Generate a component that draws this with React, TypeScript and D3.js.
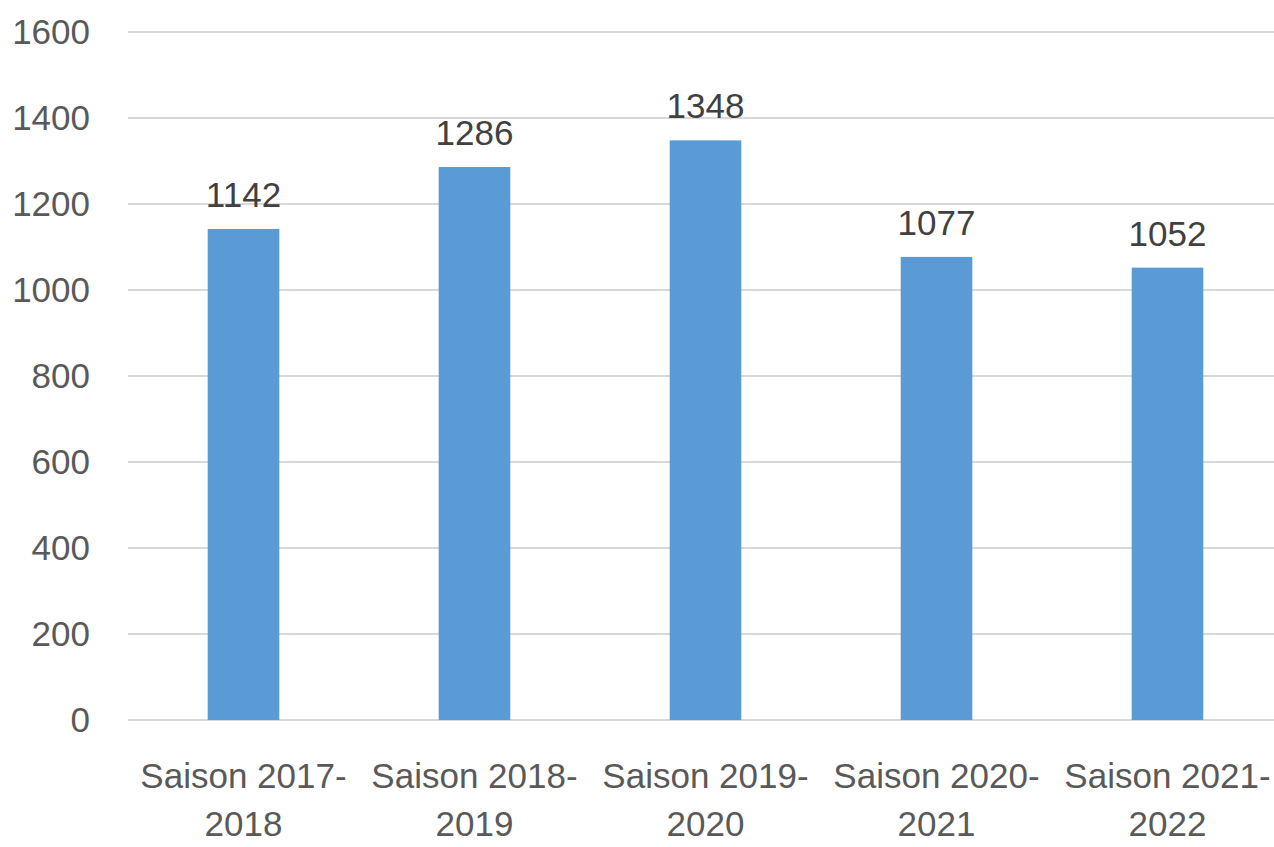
import React, { useEffect, useRef } from "react";
import { select, scaleBand, scaleLinear } from "d3";

const seasons = [
  "Saison 2017-2018",
  "Saison 2018-2019",
  "Saison 2019-2020",
  "Saison 2020-2021",
  "Saison 2021-2022",
];
const counts = [1142, 1286, 1348, 1077, 1052];
const yTicks = [0, 200, 400, 600, 800, 1000, 1200, 1400, 1600];

const WIDTH = 1274;
const HEIGHT = 847;
const FONT = "'Liberation Sans', Arial, sans-serif";
const TEXT_COLOR = "#595959";

const App = () => {
  const svgRef = useRef<SVGSVGElement | null>(null);

  useEffect(() => {
    const svg = select(svgRef.current);
    svg.selectAll("*").remove();

    const yScale = scaleLinear().domain([0, 1600]).range([720, 32]);
    const xScale = scaleBand()
      .domain(seasons)
      .range([128, 1283])
      .paddingInner(0.69)
      .paddingOuter(0.345);

    // gridlines
    svg
      .append("g")
      .selectAll("line")
      .data(yTicks)
      .enter()
      .append("line")
      .attr("x1", 128)
      .attr("x2", 1283)
      .attr("y1", (d) => yScale(d))
      .attr("y2", (d) => yScale(d))
      .attr("stroke", "#d9d9d9")
      .attr("stroke-width", 2);

    // y labels
    svg
      .append("g")
      .selectAll("text")
      .data(yTicks)
      .enter()
      .append("text")
      .attr("x", 90)
      .attr("y", (d) => yScale(d) + 12)
      .attr("text-anchor", "end")
      .attr("font-family", FONT)
      .attr("font-size", 35)
      .attr("fill", TEXT_COLOR)
      .text((d) => d);

    const rows = seasons.map((s, i) => ({ name: s, value: counts[i] }));

    // bars
    svg
      .append("g")
      .selectAll("rect")
      .data(rows)
      .enter()
      .append("rect")
      .attr("x", (d) => xScale(d.name)!)
      .attr("y", (d) => yScale(d.value))
      .attr("width", xScale.bandwidth())
      .attr("height", (d) => yScale(0) - yScale(d.value))
      .attr("fill", "#5b9bd5");

    // value labels
    svg
      .append("g")
      .selectAll("text")
      .data(rows)
      .enter()
      .append("text")
      .attr("x", (d) => xScale(d.name)! + xScale.bandwidth() / 2)
      .attr("y", (d) => yScale(d.value) - 22)
      .attr("text-anchor", "middle")
      .attr("font-family", FONT)
      .attr("font-size", 35)
      .attr("fill", "#404040")
      .text((d) => d.value);

    // category labels, two lines
    const catG = svg
      .append("g")
      .selectAll("text")
      .data(rows)
      .enter()
      .append("text")
      .attr("text-anchor", "middle")
      .attr("font-family", FONT)
      .attr("font-size", 35)
      .attr("fill", TEXT_COLOR);
    catG
      .append("tspan")
      .attr("x", (d) => xScale(d.name)! + xScale.bandwidth() / 2)
      .attr("y", 788)
      .text((d) => d.name.split("-")[0] + "-");
    catG
      .append("tspan")
      .attr("x", (d) => xScale(d.name)! + xScale.bandwidth() / 2)
      .attr("y", 836)
      .text((d) => d.name.split("-")[1]);
  }, []);

  return (
    <svg
      ref={svgRef}
      width={WIDTH}
      height={HEIGHT}
      style={{ position: "absolute", left: 0, top: 0, background: "#fff" }}
    ></svg>
  );
};

export default App;
